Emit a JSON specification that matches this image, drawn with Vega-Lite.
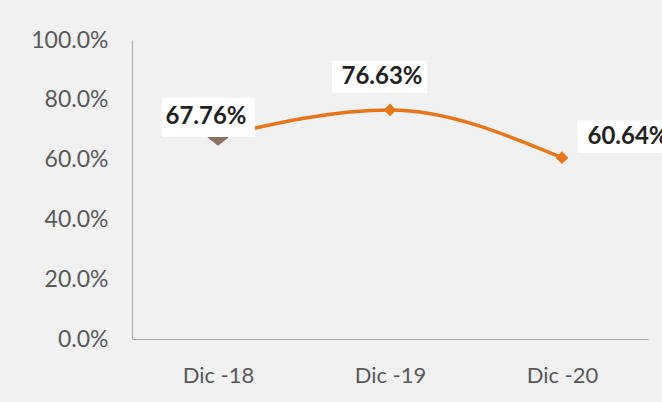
{
  "$schema": "https://vega.github.io/schema/vega-lite/v6.json",
  "autosize": {"type": "none"},
  "width": 516,
  "height": 299,
  "padding": {"left": 132, "top": 40, "right": 14, "bottom": 63},
  "background": "#f1f1f1",
  "config": {"view": {"stroke": null}, "font": "Lato"},
  "data": {"values": [
    {"periodo": "Dic -18", "valor": 0.6776},
    {"periodo": "Dic -19", "valor": 0.7663},
    {"periodo": "Dic -20", "valor": 0.6064}
  ]},
  "encoding": {
    "x": {"field": "periodo", "type": "ordinal", "sort": null,
      "scale": {"type": "point", "padding": 0.5},
      "axis": {"title": null, "labelAngle": 0, "ticks": false, "labelPadding": 26, "labelFontSize": 22, "labelColor": "#595959", "domainColor": "#a6a6a6", "labelFont": "Lato"}},
    "y": {"field": "valor", "type": "quantitative",
      "scale": {"domain": [0, 1]},
      "axis": {"title": null, "values": [0, 0.2, 0.4, 0.6, 0.8, 1], "format": ".1%", "ticks": false, "grid": false, "labelPadding": 24, "labelFontSize": 23, "labelColor": "#595959", "domainColor": "#a6a6a6", "labelFont": "Lato"}}
  },
  "layer": [
    {"mark": {"type": "line", "interpolate": "monotone", "color": "#e8751a", "strokeWidth": 3.5}},
    {"transform": [{"filter": "datum.periodo !== 'Dic -18'"}],
     "mark": {"type": "point", "shape": "diamond", "filled": true, "color": "#e8751a", "opacity": 1, "size": 160}},
    {"transform": [{"filter": "datum.periodo === 'Dic -18'"}],
     "mark": {"type": "point", "shape": "M-1,0L0,-0.8L1,0L0,0.8Z", "filled": true, "color": "#8c7265", "opacity": 1, "size": 441, "yOffset": 1}},
    {"transform": [{"filter": "datum.periodo === 'Dic -18'"}],
     "layer": [
       {"mark": {"type": "point", "shape": "M-1,-0.42H1V0.42H-1Z", "filled": true, "color": "#ffffff", "opacity": 1, "size": 8649, "xOffset": -9.5, "yOffset": -19}},
       {"mark": {"type": "text", "dx": -12, "dy": -19, "fontSize": 24, "fontWeight": "bold", "color": "#222222", "font": "Lato"},
        "encoding": {"text": {"field": "valor", "type": "quantitative", "format": ".2%"}}}
     ]},
    {"transform": [{"filter": "datum.periodo === 'Dic -19'"}],
     "layer": [
       {"mark": {"type": "point", "shape": "M-1,-0.34H1V0.34H-1Z", "filled": true, "color": "#ffffff", "opacity": 1, "size": 9025, "xOffset": -10.5, "yOffset": -33}},
       {"mark": {"type": "text", "dx": -8, "dy": -33, "fontSize": 24, "fontWeight": "bold", "color": "#222222", "font": "Lato"},
        "encoding": {"text": {"field": "valor", "type": "quantitative", "format": ".2%"}}}
     ]},
    {"transform": [{"filter": "datum.periodo === 'Dic -20'"}],
     "layer": [
       {"mark": {"type": "point", "shape": "M-1,-0.34H1V0.34H-1Z", "filled": true, "color": "#ffffff", "opacity": 1, "size": 9025, "xOffset": 63, "yOffset": -21}},
       {"mark": {"type": "text", "dx": 66, "dy": -21, "fontSize": 24, "fontWeight": "bold", "color": "#222222", "font": "Lato"},
        "encoding": {"text": {"field": "valor", "type": "quantitative", "format": ".2%"}}}
     ]}
  ]
}
